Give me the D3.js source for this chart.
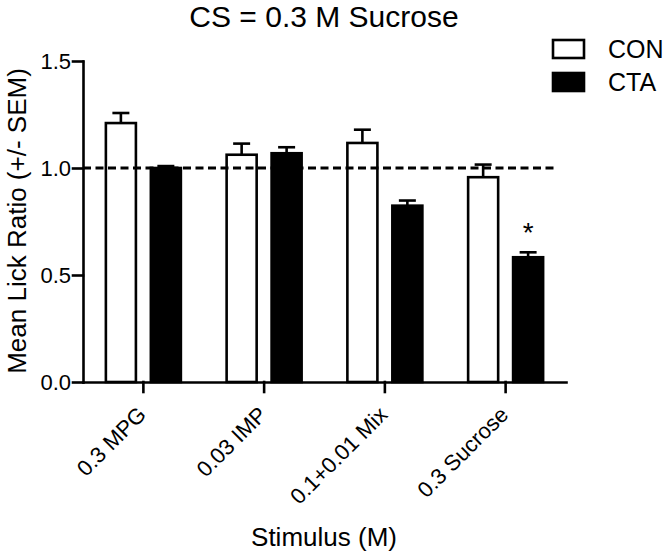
<!DOCTYPE html>
<html>
<head>
<meta charset="utf-8">
<script src="https://cdn.jsdelivr.net/npm/d3@7"></script>
<style>
  html, body { margin: 0; padding: 0; background: #fff; }
  svg { display: block; font-family: "Liberation Sans", Arial, sans-serif; }
</style>
</head>
<body>
<svg id="chart" width="665" height="555"></svg>
<script>
const categories = ["0.3 MPG", "0.03 IMP", "0.1+0.01 Mix", "0.3 Sucrose"];
const series = ["CON", "CTA"];
const conMean = [1.21, 1.062, 1.117, 0.957];
const conSem  = [0.047, 0.052, 0.062, 0.059];
const ctaMean = [1.0, 1.069, 0.824, 0.583];
const ctaSem  = [0.009, 0.028, 0.024, 0.023];
const yTicks = [0, 0.5, 1.0, 1.5];
const refValue = 1.0;
const significant = [false, false, false, true]; // CTA vs CON
const titleText = "CS = 0.3 M Sucrose";
const yLabel = "Mean Lick Ratio (+/- SEM)";
const xLabel = "Stimulus (M)";

(function () {
const svg = d3.select("#chart");
const SW = 2.6;
const pLeft = 83, pRight = 566, pTop = 61, pBottom = 382;

const x0 = d3.scaleBand().domain(categories).range([pLeft, pRight]).padding(0);
const bw = x0.bandwidth();
const x1 = d3.scaleBand().domain(series)
  .range([bw / 2 - 38, bw / 2 + 38]).paddingInner(0.31).paddingOuter(0);
const y = d3.scaleLinear().domain([0, 1.5]).range([pBottom, pTop]);

const rows = categories.map((c, i) => ({
  cat: c,
  vals: [
    { s: "CON", m: conMean[i], e: conSem[i] },
    { s: "CTA", m: ctaMean[i], e: ctaSem[i] }
  ]
}));

const fillOf = s => s === "CON" ? "#fff" : "#000";
const barW = x1.bandwidth() - 1;

const g = svg.append("g");
const groups = g.selectAll("g.grp").data(rows).enter().append("g")
  .attr("transform", d => `translate(${x0(d.cat)},0)`);

// error bars (upward only)
groups.selectAll("g.err").data(d => d.vals).enter().append("g").each(function(d) {
  const cx = x1(d.s) + x1.bandwidth() / 2;
  const sel = d3.select(this);
  sel.append("line").attr("x1", cx).attr("x2", cx)
    .attr("y1", y(d.m)).attr("y2", y(d.m + d.e))
    .attr("stroke", "#000").attr("stroke-width", SW);
  sel.append("line").attr("x1", cx - 8.5).attr("x2", cx + 8.5)
    .attr("y1", y(d.m + d.e)).attr("y2", y(d.m + d.e))
    .attr("stroke", "#000").attr("stroke-width", SW);
});

groups.selectAll("rect").data(d => d.vals).enter().append("rect")
  .attr("x", d => x1(d.s) + (x1.bandwidth() - barW) / 2)
  .attr("width", barW)
  .attr("y", d => y(d.m))
  .attr("height", d => y(0) - y(d.m))
  .attr("fill", d => fillOf(d.s))
  .attr("stroke", "#000")
  .attr("stroke-width", SW);

// reference dashed line
svg.append("line")
  .attr("x1", pLeft).attr("x2", 557)
  .attr("y1", y(refValue)).attr("y2", y(refValue))
  .attr("stroke", "#000").attr("stroke-width", 3)
  .attr("stroke-dasharray", "8,4.5");

// significance markers
rows.forEach((r, i) => {
  if (!significant[i]) return;
  const d = r.vals[1];
  svg.append("text")
    .attr("x", x0(r.cat) + x1("CTA") + x1.bandwidth() / 2)
    .attr("y", y(d.m + d.e) - 10)
    .attr("text-anchor", "middle")
    .attr("font-size", 28)
    .text("*");
});

// axes
const yAxis = d3.axisLeft(y).tickValues(yTicks).tickFormat(d3.format(".1f"))
  .tickSize(10).tickSizeOuter(0).tickPadding(2);
const ya = svg.append("g").attr("transform", `translate(${pLeft},0)`).call(yAxis);
ya.selectAll("path,line").attr("stroke", "#000").attr("stroke-width", SW).attr("stroke-linecap", "square");
ya.selectAll("text").attr("font-size", 22).attr("fill", "#000")
  .attr("font-family", "Liberation Sans, Arial, sans-serif").attr("dy", "0.35em");

const xAxis = d3.axisBottom(x0).tickSize(10).tickSizeOuter(0);
const xa = svg.append("g").attr("transform", `translate(0,${pBottom})`).call(xAxis);
xa.selectAll("path,line").attr("stroke", "#000").attr("stroke-width", SW).attr("stroke-linecap", "square");
xa.selectAll("text")
  .attr("font-size", 22).attr("fill", "#000")
  .attr("font-family", "Liberation Sans, Arial, sans-serif")
  .attr("text-anchor", "end")
  .attr("x", 0).attr("y", 0).attr("dy", 0)
  .attr("transform", "translate(4,34) rotate(-45)");

// titles
svg.append("text").attr("x", 324).attr("y", 27).attr("text-anchor", "middle")
  .attr("font-size", 30).text(titleText);
svg.append("text").attr("transform", "translate(26,221) rotate(-90)")
  .attr("text-anchor", "middle").attr("font-size", 26).text(yLabel);
svg.append("text").attr("x", 324).attr("y", 546).attr("text-anchor", "middle")
  .attr("font-size", 26).text(xLabel);

// legend
const legend = svg.append("g").attr("transform", "translate(553,40)");
series.forEach((s, i) => {
  const lg = legend.append("g").attr("transform", `translate(0,${i * 33})`);
  lg.append("rect").attr("x", 0).attr("y", 0).attr("width", 31).attr("height", 18)
    .attr("fill", fillOf(s)).attr("stroke", "#000").attr("stroke-width", SW);
  lg.append("text").attr("x", 55).attr("y", 18).attr("font-size", 25).text(s);
});
})();
</script>
</body>
</html>
